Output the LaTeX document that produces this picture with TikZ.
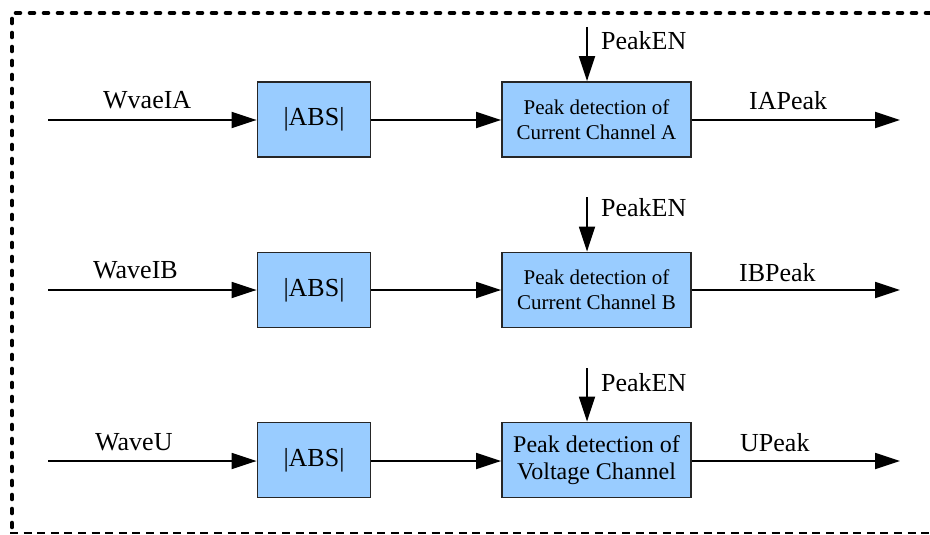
\documentclass[tikz,border=0pt]{standalone}
\usepackage{fontspec}
\setmainfont{Liberation Serif}
\usetikzlibrary{arrows.meta}
\tikzset{
  blk/.style={draw=black!85, line width=1.8pt, fill=boxblue, inner sep=0pt, align=center},
  absbox/.style={blk, minimum width=113pt, minimum height=75pt, font=\fontsize{26}{28}\selectfont},
  pkbox/.style={blk, minimum width=189pt, minimum height=75pt, font=\fontsize{21}{25}\selectfont},
  pkboxv/.style={blk, minimum width=189pt, minimum height=75pt, font=\fontsize{24}{27}\selectfont},
  lbl/.style={anchor=base west, inner sep=0pt, font=\fontsize{26}{28}\selectfont},
  arr/.style={line width=1.8pt, -{Triangle[length=25pt,width=16pt]}},
  ln/.style={line width=1.8pt}
}
\definecolor{boxblue}{HTML}{99CCFF}
\begin{document}
\begin{tikzpicture}[x=1pt,y=-1pt]
\useasboundingbox (0,0) rectangle (930,535);
% border
\draw[line width=4.6pt, line cap=round, dash pattern=on 4pt off 10pt] (930,13) -- (12,13) -- (12,530);
\draw[line width=2.8pt, dash pattern=on 8pt off 5.6pt] (10,533) -- (930,533);

% row 1
\node[absbox] (abs1) at (314,119.5) {|ABS|};
\node[pkbox] (pk1) at (596.5,119.5) {Peak detection of\\Current Channel A};
\coordinate (in1) at (48,120);
\coordinate (out1) at (900,120);
\coordinate (en1) at (587,27);
\draw[arr] (in1) -- (abs1.west |- in1);
\draw[arr] (abs1.east |- in1) -- (pk1.west |- in1);
\draw[arr] (pk1.east |- in1) -- (out1);
\draw[arr] (en1) -- (en1 |- pk1.north);
\node[lbl] (l1a) at (103,109) {WvaeIA};
\node[lbl] (l1b) at (749,110) {IAPeak};
\node[lbl] (l1c) at (601,50) {PeakEN};

% row 2
\node[absbox] (abs2) at (314,290) {|ABS|};
\node[pkbox] (pk2) at (596.5,290) {Peak detection of\\Current Channel B};
\coordinate (in2) at (48,290);
\coordinate (out2) at (900,290);
\coordinate (en2) at (587,197);
\draw[arr] (in2) -- (abs2.west |- in2);
\draw[arr] (abs2.east |- in2) -- (pk2.west |- in2);
\draw[arr] (pk2.east |- in2) -- (out2);
\draw[arr] (en2) -- (en2 |- pk2.north);
\node[lbl] (l2a) at (93,278) {WaveIB};
\node[lbl] (l2b) at (739,281) {IBPeak};
\node[lbl] (l2c) at (601,216) {PeakEN};

% row 3
\node[absbox] (abs3) at (314,460) {|ABS|};
\node[pkboxv] (pk3) at (596.5,460) {Peak detection of\\Voltage Channel};
\coordinate (in3) at (48,461);
\coordinate (out3) at (900,461);
\coordinate (en3) at (587,368);
\draw[arr] (in3) -- (abs3.west |- in3);
\draw[arr] (abs3.east |- in3) -- (pk3.west |- in3);
\draw[arr] (pk3.east |- in3) -- (out3);
\draw[arr] (en3) -- (en3 |- pk3.north);
\node[lbl] (l3a) at (95,450) {WaveU};
\node[lbl] (l3b) at (740,451) {UPeak};
\node[lbl] (l3c) at (601,391) {PeakEN};
\end{tikzpicture}
\end{document}
